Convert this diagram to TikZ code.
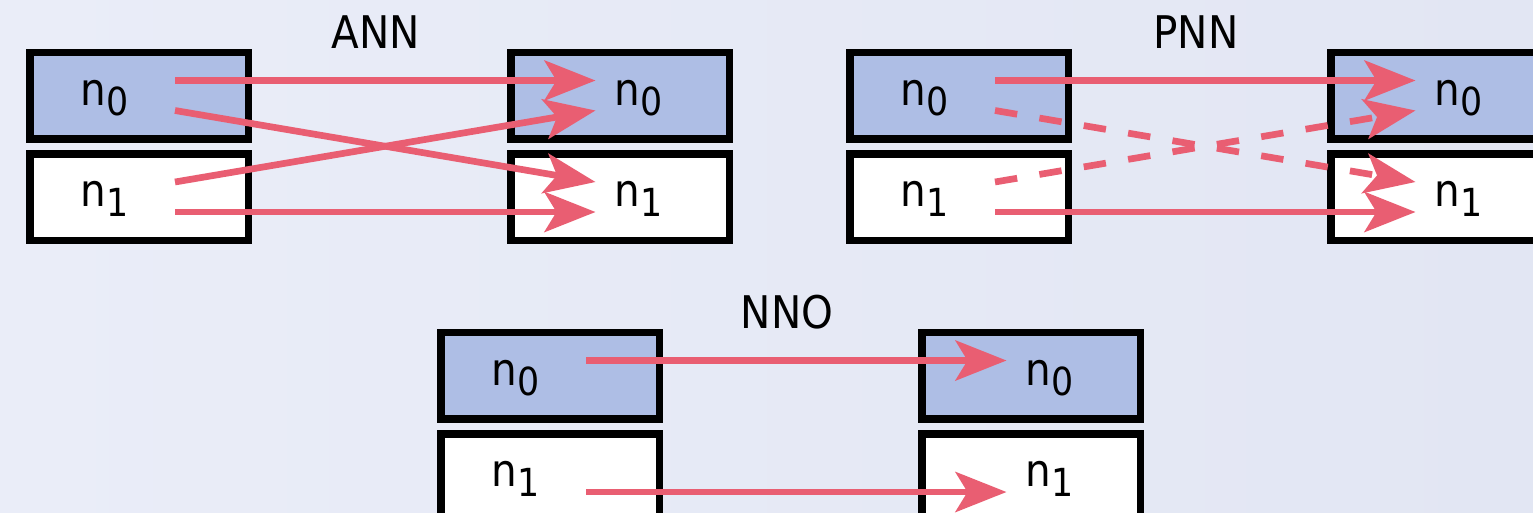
\documentclass[tikz,border=0pt]{standalone}
\usepackage{fontspec}
\setmainfont{DejaVu Sans Condensed}
\usetikzlibrary{arrows.meta,positioning,calc}
\definecolor{bgleft}{RGB}{234,237,248}
\definecolor{bgright}{RGB}{226,230,243}
\definecolor{regfill}{RGB}{174,190,229}
\definecolor{linkred}{RGB}{233,94,114}
\newcommand{\nsub}[1]{n\raisebox{-0.2cm}{\fontsize{22}{22}\selectfont #1}}
\tikzset{reg/.style={draw=black,line width=0.15cm,minimum width=4.37cm,
           minimum height=1.73cm,inner sep=0pt,outer sep=0pt},
         reg0/.style={reg,fill=regfill},
         reg1/.style={reg,fill=white},
         txt/.style={inner sep=0pt,anchor=base west,
           font=\fontsize{25.6}{30}\selectfont},
         title/.style={inner sep=0pt,anchor=base,
           font=\fontsize{25.6}{30}\selectfont},
         link/.style={draw=linkred,line width=0.134cm,
           -{Stealth[length=1.02cm,width=0.8cm,inset=0.24cm]}},
         dlink/.style={link,dash pattern=on 0.45cm off 0.45cm}}

\begin{document}
\begin{tikzpicture}
  \fill[left color=bgleft,right color=bgright] (0,0) rectangle (30.66,-10.24);
  \useasboundingbox (0,0) rectangle (30.66,-10.24);
  % registers
  \node[reg0] (annL0) at (2.78,-1.91) {};
  \node[reg1,below=0.3cm of annL0] (annL1) {};
  \node[reg0,right=5.25cm of annL0] (annR0) {};
  \node[reg1,below=0.3cm of annR0] (annR1) {};
  \node[reg0] (pnnL0) at (19.18,-1.91) {};
  \node[reg1,below=0.3cm of pnnL0] (pnnL1) {};
  \node[reg0,right=5.25cm of pnnL0] (pnnR0) {};
  \node[reg1,below=0.3cm of pnnR0] (pnnR1) {};
  \node[reg0] (nnoL0) at (11.0,-7.51) {};
  \node[reg1,below=0.3cm of nnoL0] (nnoL1) {};
  \node[reg0,right=5.25cm of nnoL0] (nnoR0) {};
  \node[reg1,below=0.3cm of nnoR0] (nnoR1) {};
  \foreach \b/\i in {annL0/0,annL1/1,pnnL0/0,pnnL1/1,nnoL0/0,nnoL1/1}
    \node[txt] (\b-t) at ($(\b)+(-1.17,-0.19)$) {\nsub{\i}};
  \foreach \b/\i in {annR0/0,annR1/1,pnnR0/0,pnnR1/1,nnoR0/0,nnoR1/1}
    \node[txt] (\b-t) at ($(\b)+(-0.11,-0.19)$) {\nsub{\i}};
  % titles
  \node[title] (annT) at ($(annL0.north)!.5!(annR0.north)+(-0.07,0.08)$) {ANN};
  \node[title] (pnnT) at ($(pnnL0.north)!.5!(pnnR0.north)+(-0.07,0.08)$) {PNN};
  \node[title] (nnoT) at ($(nnoL0.north)!.5!(nnoR0.north)+(-0.07,0.08)$) {NNO};
  % links
  \draw[link] ($(annL0)+(0.72,0.3)$) -- ($(annR0)+(-0.49,0.3)$);
  \draw[link] ($(annL0)+(0.72,-0.3)$) -- ($(annR1)+(-0.49,0.3)$);
  \draw[link] ($(annL1)+(0.72,0.3)$) -- ($(annR0)+(-0.49,-0.3)$);
  \draw[link] ($(annL1)+(0.72,-0.3)$) -- ($(annR1)+(-0.49,-0.3)$);
  \draw[link] ($(pnnL0)+(0.72,0.3)$) -- ($(pnnR0)+(-0.49,0.3)$);
  \draw[dlink] ($(pnnL0)+(0.72,-0.3)$) -- ($(pnnR1)+(-0.49,0.3)$);
  \draw[dlink] ($(pnnL1)+(0.72,0.3)$) -- ($(pnnR0)+(-0.49,-0.3)$);
  \draw[link] ($(pnnL1)+(0.72,-0.3)$) -- ($(pnnR1)+(-0.49,-0.3)$);
  \draw[link] ($(nnoL0)+(0.72,0.3)$) -- ($(nnoR0)+(-0.49,0.3)$);
  \draw[link] ($(nnoL1)+(0.72,-0.3)$) -- ($(nnoR1)+(-0.49,-0.3)$);
\end{tikzpicture}
\end{document}
